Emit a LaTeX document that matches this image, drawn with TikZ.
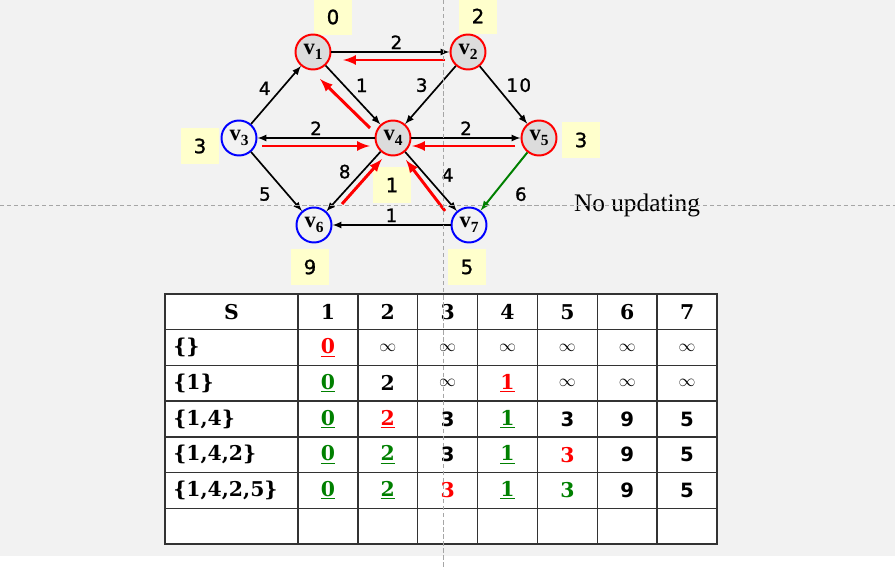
\documentclass[tikz,border=0pt]{standalone}
\usepackage{fontspec}
\setmainfont{Liberation Serif}
\newfontfamily\sansdigits{DejaVu Sans}
\newfontfamily\weightdigits[FakeBold=1.2]{DejaVu Sans}
\newfontfamily\heavyserif{DejaVu Serif}

\definecolor{paper}{HTML}{F2F2F2}
\definecolor{notepad}{HTML}{FFFFCC}
\definecolor{visited}{HTML}{DCDCDC}
\definecolor{okgreen}{HTML}{008000}
\definecolor{gridline}{HTML}{333333}

\newcommand{\vtx}[1]{\textbf{v}\raisebox{-0.45ex}{\fontsize{11}{11}\selectfont\textbf{#1}}}
\newcommand{\rd}[1]{\textcolor{red}{#1}}
\newcommand{\gn}[1]{\textcolor{okgreen}{#1}}
\newcommand{\tser}{\heavyserif\bfseries\fontsize{14.5}{14.5}\selectfont}
\newcommand{\tsan}{\sansdigits\bfseries\fontsize{14}{14}\selectfont}
\newcommand{\tinf}{{\fontsize{13}{13}\selectfont$\infty$}}

\tikzset{
  vset/.style={draw=red, circle, line width=1.4pt, fill=visited, minimum size=0.875cm, inner sep=0pt, font=\fontsize{16}{16}\selectfont},
  vout/.style={vset, draw=blue, fill=paper},
  dist/.style={fill=notepad, minimum width=0.95cm, minimum height=0.9cm, inner sep=0pt, font=\weightdigits\fontsize{14}{14}\selectfont},
  wt/.style={font=\weightdigits\fontsize{13}{13}\selectfont, inner sep=1.5pt},
  link/.style={draw, line width=1.2pt, ->, >=latex},
  pred/.style={draw=red, line width=2.1pt, ->, >=latex},
  tcell/.style={inner sep=0pt},
  guide/.style={draw=gray!70, line width=0.6pt, dash pattern=on 3pt off 2pt}
}

\begin{document}
\begin{tikzpicture}[x=0.025cm, y=-0.025cm]
% background
\fill[white] (0,0) rectangle (895,570);
\fill[paper] (0,0) rectangle (895,556);
\useasboundingbox (0,0) rectangle (895,570);

% current distances
\node[dist] (d1) at (333,17) {0};
\node[dist] (d2) at (478,16) {2};
\node[dist] (d3) at (200,146) {3};
\node[dist] (d4) at (392,185) {1};
\node[dist] (d5) at (581,140) {3};
\node[dist] (d6) at (310,267) {9};
\node[dist] (d7) at (467,267) {5};

% vertices
\node[vset] (v1) at (313,52) {\vtx{1}};
\node[vset] (v2) at (468,52) {\vtx{2}};
\node[vout] (v3) at (239,138) {\vtx{3}};
\node[vset] (v4) at (393,138) {\vtx{4}};
\node[vset] (v5) at (539,138) {\vtx{5}};
\node[vout] (v6) at (314,225) {\vtx{6}};
\node[vout] (v7) at (469,225) {\vtx{7}};

\path[link] (v1) -- node[wt, above, pos=0.55] {2} (v2);
\path[link] (v3) -- node[wt, above left, pos=0.45] {4} (v1);
\path[link] (v1) -- node[wt, above right] {1} (v4);
\path[link] (v2) -- node[wt, above left] {3} (v4);
\path[link] (v2) -- node[wt, above right] {1\kern1pt0} (v5);
\path[link] (v4) -- node[wt, above] {2} (v3);
\path[link] (v4) -- node[wt, above] {2} (v5);
\path[link] (v3) -- node[wt, below left=2pt] {5} (v6);
\path[link] (v4) -- node[wt, above left] {8} (v6);
\path[link] (v4) -- node[wt, above right=2pt, pos=0.6] {4} (v7);
\path[link] (v7) -- node[wt, above] {1} (v6);
\path[link, draw=okgreen, line width=1.4pt] (v5) -- node[wt, below right=4pt, pos=0.45] {6} (v7);

% predecessors
\path[pred] ([shift={(-23,8)}]v2.center) -- ([shift={(30,8)}]v1.center);
\path[pred] ([shift={(-23,-10)}]v4.center) -- ([shift={(7,27)}]v1.center);
\path[pred] ([shift={(23,8)}]v3.center) -- ([shift={(-23,8)}]v4.center);
\path[pred] ([shift={(-24,8)}]v5.center) -- ([shift={(19,8)}]v4.center);
\path[pred] ([shift={(28,-21)}]v6.center) -- ([shift={(-11,21)}]v4.center);
\path[pred] ([shift={(-24,-14)}]v7.center) -- ([shift={(13,22)}]v4.center);

\node[font=\fontsize{18}{18}\selectfont] (note) at (637,205) {No updating};

% table
\fill[white] (165,294) rectangle (717,544);
\foreach \y in {329.7,365.4,401.1,436.9,472.6,508.3}
  \draw[gridline, line width=1.1pt] (165,\y) -- (717,\y);
\foreach \x in {298,357.9,417.7,477.6,537.4,597.3,657.1}
  \draw[gridline, line width=1.1pt] (\x,294) -- (\x,544);
\draw[gridline, line width=1.5pt] (165,294) rectangle (717,544);

\node[tcell, font=\tser] (hS) at (231.5,311.9) {S};
\foreach \i in {1,...,7}
  \node[tcell, font=\tser] (h\i) at ({298+59.86*(\i-0.5)},311.9) {\i};
\foreach \r/\lab in {1/{\{\}},2/{\{1\}},3/{\{1,4\}},4/{\{1,4,2\}},5/{\{1,4,2,5\}}}
  \node[tcell, font=\tser, anchor=west] (s\r) at (173,{294+35.71*(\r+0.5)}) {\lab};

\node[tcell] (r1c1) at (327.9,347.6) {\tser\rd{\underline{0}}};
\foreach \col in {2,...,7}
  \node[tcell] (r1c\col) at ({298+59.86*(\col-0.5)},347.6) {\tinf};
\foreach \col/\val in {1/{\tser\gn{\underline{0}}},2/{\tser 2},3/\tinf,4/{\tser\rd{\underline{1}}},5/\tinf,6/\tinf,7/\tinf}
  \node[tcell] (r2c\col) at ({298+59.86*(\col-0.5)},383.3) {\val};
\foreach \col/\val in {1/{\tser\gn{\underline{0}}},2/{\tser\rd{\underline{2}}},3/{\tsan 3},4/{\tser\gn{\underline{1}}},5/{\tsan 3},6/{\tsan 9},7/{\tsan 5}}
  \node[tcell] (r3c\col) at ({298+59.86*(\col-0.5)},419) {\val};
\foreach \col/\val in {1/{\tser\gn{\underline{0}}},2/{\tser\gn{\underline{2}}},3/{\tsan 3},4/{\tser\gn{\underline{1}}},5/{\tser\rd{3}},6/{\tsan 9},7/{\tsan 5}}
  \node[tcell] (r4c\col) at ({298+59.86*(\col-0.5)},454.7) {\val};
\foreach \col/\val in {1/{\tser\gn{\underline{0}}},2/{\tser\gn{\underline{2}}},3/{\tser\rd{3}},4/{\tser\gn{\underline{1}}},5/{\tser\gn{3}},6/{\tsan 9},7/{\tsan 5}}
  \node[tcell] (r5c\col) at ({298+59.86*(\col-0.5)},490.4) {\val};

% guides
\draw[guide] (0,205) -- (895,205);
\draw[guide] (443,0) -- (443,570);
\end{tikzpicture}
\end{document}
